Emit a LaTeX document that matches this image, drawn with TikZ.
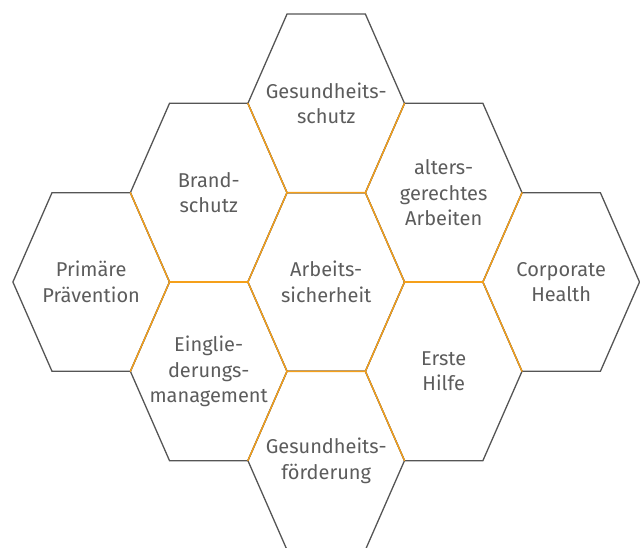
\documentclass[tikz,border=0pt]{standalone}
\usepackage{fontspec}
\setmainfont{Fira Sans}
\definecolor{edgegray}{HTML}{555555}
\definecolor{edgeorange}{HTML}{F5A01A}
\definecolor{textgray}{HTML}{5C5C5C}
\newcommand{\hexA}{78.3}
\newcommand{\hexB}{39.2}
\newcommand{\hexH}{89.3}
\newcommand{\mkhex}[3]{%
  \coordinate (#1-1) at ({#2-\hexA},{#3});
  \coordinate (#1-2) at ({#2-\hexB},{#3+\hexH});
  \coordinate (#1-3) at ({#2+\hexB},{#3+\hexH});
  \coordinate (#1-4) at ({#2+\hexA},{#3});
  \coordinate (#1-5) at ({#2+\hexB},{#3-\hexH});
  \coordinate (#1-6) at ({#2-\hexB},{#3-\hexH});
  \coordinate (#1-c) at ({#2},{#3});
  \draw[outeredge] (#1-1) -- (#1-2) -- (#1-3) -- (#1-4) -- (#1-5) -- (#1-6) -- cycle;
}
\begin{document}
\begin{tikzpicture}[x=1pt,y=1pt,
  outeredge/.style={draw=edgegray, line width=1.3pt, line join=miter},
  inneredge/.style={draw=edgeorange, line width=1.4pt, line cap=round},
  label/.style={text=textgray, align=center, font=\fontsize{20}{25.5}\selectfont, inner sep=0pt}]
\useasboundingbox (0,0) rectangle (640,547);
% hexagons: centers in y-up coordinates
\mkhex{C}{326.2}{265}
\mkhex{T}{326.2}{443.6}
\mkhex{B}{326.2}{86.4}
\mkhex{UL}{208.7}{354.35}
\mkhex{UR}{443.7}{354.35}
\mkhex{LL}{208.7}{175.65}
\mkhex{LR}{443.7}{175.65}
\mkhex{FL}{91.2}{265}
\mkhex{FR}{561.2}{265}
% shared (inner) edges
\draw[inneredge] (C-1) -- (C-2) -- (C-3) -- (C-4) -- (C-5) -- (C-6) -- cycle;
\draw[inneredge] (T-6) -- (T-1);
\draw[inneredge] (T-4) -- (T-5);
\draw[inneredge] (B-1) -- (B-2);
\draw[inneredge] (B-3) -- (B-4);
\draw[inneredge] (UL-5) -- (UL-6);
\draw[inneredge] (UR-5) -- (UR-6);
\draw[inneredge] (FL-3) -- (FL-4) -- (FL-5);
\draw[inneredge] (FR-2) -- (FR-1) -- (FR-6);
% labels
\node[label] (lC) at (C-c) {Arbeits-\\sicherheit};
\node[label] (lT) at (T-c) {Gesundheits-\\schutz};
\node[label] (lB) at (B-c) {Gesundheits-\\förderung};
\node[label] (lUL) at (UL-c) {Brand-\\schutz};
\node[label] (lUR) at (UR-c) {alters-\\gerechtes\\Arbeiten};
\node[label] (lLL) at (LL-c) {Einglie-\\derungs-\\management};
\node[label] (lLR) at (LR-c) {Erste\\Hilfe};
\node[label] (lFL) at (FL-c) {Primäre\\Prävention};
\node[label] (lFR) at (FR-c) {Corporate\\Health};
\end{tikzpicture}
\end{document}
